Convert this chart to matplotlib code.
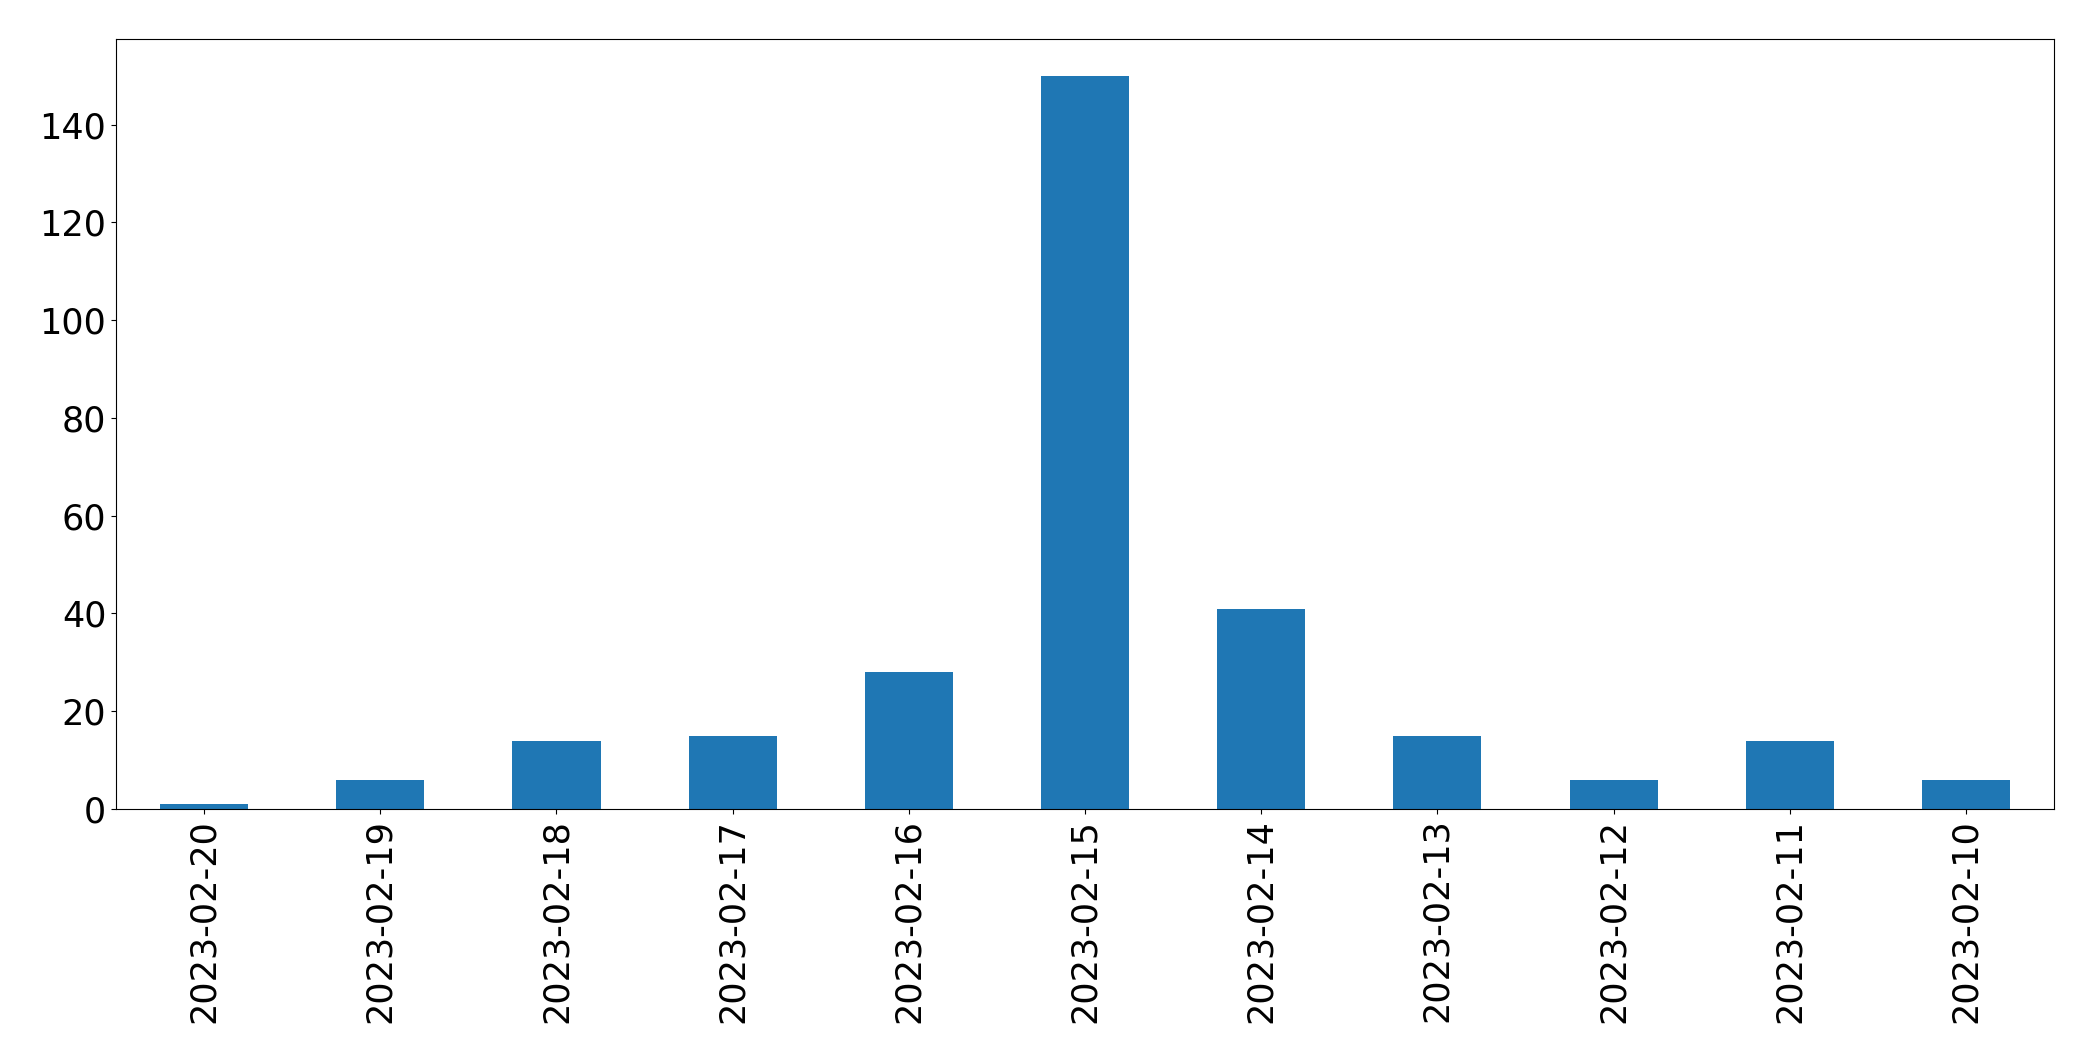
import matplotlib
matplotlib.use("Agg")
import matplotlib.pyplot as plt

dates = ["2023-02-20", "2023-02-19", "2023-02-18", "2023-02-17", "2023-02-16",
         "2023-02-15", "2023-02-14", "2023-02-13", "2023-02-12", "2023-02-11",
         "2023-02-10"]
counts = [1, 6, 14, 15, 28, 150, 41, 15, 6, 14, 6]

W, H = 2093, 1061
fig = plt.figure(figsize=(W / 100, H / 100), dpi=100)
left, right, top, bottom = 116, 2054, 39, 809
ax = fig.add_axes([left / W, 1 - bottom / H, (right - left) / W, (bottom - top) / H])

x = list(range(len(dates)))
ax.bar(x, counts, width=0.5, color="#1f77b4")
ax.set_xlim(-0.5, len(dates) - 0.5)
ax.set_ylim(0, max(counts) * 1.05)
ax.set_xticks(x)
ax.set_xticklabels(dates, rotation=90)
ax.tick_params(axis="both", labelsize=25.2)

fig.savefig("out.png", dpi=100)
